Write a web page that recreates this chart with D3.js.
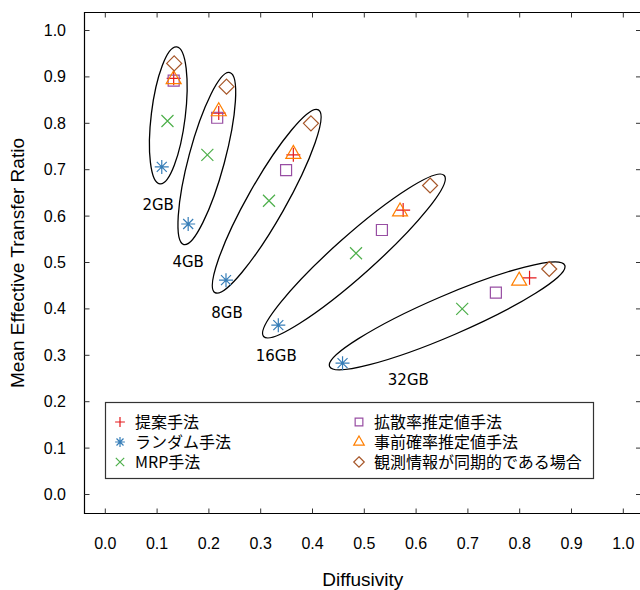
<!DOCTYPE html>
<html>
<head>
<meta charset="utf-8">
<script src="https://cdn.jsdelivr.net/npm/d3@7"></script>
<style>
  body { margin: 0; background: #fff; }
  svg { display: block; }
</style>
</head>
<body>
<div id="chart"></div>
<script>
// values, one [diffusivity, ratio] pair per memory size
const groups = ["2GB", "4GB", "8GB", "16GB", "32GB"];
const proposed  = [[0.132, 0.897], [0.219, 0.822], [0.363, 0.732], [0.575, 0.613], [0.819, 0.467]];
const random    = [[0.109, 0.706], [0.160, 0.583], [0.233, 0.462], [0.334, 0.365], [0.458, 0.283]];
const mrp       = [[0.120, 0.805], [0.197, 0.732], [0.316, 0.633], [0.484, 0.520], [0.689, 0.400]];
const diffEst   = [[0.132, 0.892], [0.216, 0.812], [0.349, 0.699], [0.534, 0.570], [0.754, 0.435]];
const priorEst  = [[0.132, 0.895], [0.219, 0.826], [0.363, 0.734], [0.569, 0.610], [0.799, 0.461]];
const syncObs   = [[0.133, 0.929], [0.234, 0.879], [0.397, 0.800], [0.627, 0.666], [0.857, 0.486]];

// group ellipses: centre (data), half axes (px), rotation (deg)
const ellCenters = [[0.1216, 0.817], [0.196, 0.724], [0.3116, 0.632], [0.480, 0.514], [0.660, 0.385]];
const ellRadii   = [[69, 17], [89, 18], [105, 19], [121, 20], [128, 20]];
const ellAngles  = [-83, -75, -60.5, -41.7, -23.3];
const labelPos   = [[0.102, 0.624], [0.160, 0.501], [0.235, 0.393], [0.330, 0.300], [0.585, 0.247]];

const xTicks = d3.range(0, 1.01, 0.1);
const yTicks = d3.range(0, 1.01, 0.1);

const series = [
  { name: "提案手法", data: proposed, color: "#e41a1c", shape: "plus" },
  { name: "ランダム手法", data: random, color: "#377eb8", shape: "star" },
  { name: "MRP手法", data: mrp, color: "#4daf4a", shape: "cross" },
  { name: "拡散率推定値手法", data: diffEst, color: "#984ea3", shape: "square" },
  { name: "事前確率推定値手法", data: priorEst, color: "#ff7f00", shape: "triangle" },
  { name: "観測情報が同期的である場合", data: syncObs, color: "#a65628", shape: "diamond" }
];

const width = 640, height = 590;
const frame = { left: 84.5, right: 641, top: 12.5, bottom: 513.5 };

const x = d3.scaleLinear().domain([0, 1]).range([105.3, 623.3]);
const y = d3.scaleLinear().domain([0, 1]).range([494.5, 30.5]);

const svg = d3.select("#chart").append("svg")
  .attr("width", width)
  .attr("height", height);

// marker path for a given shape, s = scale factor
function markerPath(shape, s) {
  const p = d3.path();
  if (shape === "plus") {
    p.moveTo(-7 * s, 0); p.lineTo(7 * s, 0);
    p.moveTo(0, -7 * s); p.lineTo(0, 7 * s);
  } else if (shape === "cross") {
    p.moveTo(-6 * s, -6 * s); p.lineTo(6 * s, 6 * s);
    p.moveTo(-6 * s, 6 * s); p.lineTo(6 * s, -6 * s);
  } else if (shape === "star") {
    p.moveTo(-7 * s, 0); p.lineTo(7 * s, 0);
    p.moveTo(0, -7 * s); p.lineTo(0, 7 * s);
    p.moveTo(-5 * s, -5 * s); p.lineTo(5 * s, 5 * s);
    p.moveTo(-5 * s, 5 * s); p.lineTo(5 * s, -5 * s);
  } else if (shape === "square") {
    p.rect(-5.5 * s, -5.5 * s, 11 * s, 11 * s);
  } else if (shape === "triangle") {
    p.moveTo(0, -8.5 * s); p.lineTo(7.5 * s, 4.5 * s); p.lineTo(-7.5 * s, 4.5 * s); p.closePath();
  } else if (shape === "diamond") {
    p.moveTo(0, -7.5 * s); p.lineTo(7.5 * s, 0); p.lineTo(0, 7.5 * s); p.lineTo(-7.5 * s, 0); p.closePath();
  }
  return p.toString();
}

// frame
svg.append("path")
  .attr("d", `M${frame.right},${frame.top}H${frame.left}V${frame.bottom}H${frame.right}`)
  .attr("fill", "none")
  .attr("stroke", "#000")
  .attr("stroke-width", 1.2);

// inward ticks on four sides
const tickG = svg.append("g").attr("stroke", "#333").attr("stroke-width", 1);
xTicks.forEach(t => {
  tickG.append("line").attr("x1", x(t)).attr("x2", x(t)).attr("y1", frame.top).attr("y2", frame.top + 5);
  tickG.append("line").attr("x1", x(t)).attr("x2", x(t)).attr("y1", frame.bottom).attr("y2", frame.bottom - 5);
});
yTicks.forEach(t => {
  tickG.append("line").attr("x1", frame.left).attr("x2", frame.left + 5).attr("y1", y(t)).attr("y2", y(t));
  tickG.append("line").attr("x1", frame.right).attr("x2", frame.right - 5).attr("y1", y(t)).attr("y2", y(t));
});

// tick labels
svg.append("g").selectAll("text")
  .data(xTicks)
  .enter().append("text")
  .attr("x", d => x(d))
  .attr("y", 549)
  .attr("text-anchor", "middle")
  .style("font-family", "'Liberation Sans', Arial, sans-serif")
  .style("font-size", "16px")
  .text(d => d3.format(".1f")(d));

svg.append("g").selectAll("text")
  .data(yTicks)
  .enter().append("text")
  .attr("x", 66)
  .attr("y", d => y(d) + 5.5)
  .attr("text-anchor", "end")
  .style("font-family", "'Liberation Sans', Arial, sans-serif")
  .style("font-size", "16px")
  .text(d => d3.format(".1f")(d));

// axis titles
svg.append("text")
  .attr("x", (frame.left + frame.right) / 2)
  .attr("y", 586)
  .attr("text-anchor", "middle")
  .style("font-family", "'Liberation Sans', Arial, sans-serif")
  .style("font-size", "19px")
  .text("Diffusivity");

svg.append("text")
  .attr("transform", `translate(24,${(frame.top + frame.bottom) / 2}) rotate(-90)`)
  .attr("text-anchor", "middle")
  .style("font-family", "'Liberation Sans', Arial, sans-serif")
  .style("font-size", "19px")
  .text("Mean Effective Transfer Ratio");

// group ellipses
svg.append("g").selectAll("ellipse")
  .data(groups)
  .enter().append("ellipse")
  .attr("transform", (d, i) => `translate(${x(ellCenters[i][0])},${y(ellCenters[i][1])}) rotate(${ellAngles[i]})`)
  .attr("rx", (d, i) => ellRadii[i][0])
  .attr("ry", (d, i) => ellRadii[i][1])
  .attr("fill", "none")
  .attr("stroke", "#000")
  .attr("stroke-width", 1.3);

svg.append("g").selectAll("text")
  .data(groups)
  .enter().append("text")
  .attr("x", (d, i) => x(labelPos[i][0]))
  .attr("y", (d, i) => y(labelPos[i][1]))
  .attr("dy", "0.36em")
  .attr("text-anchor", "middle")
  .style("font-family", "'DejaVu Sans', sans-serif")
  .style("font-size", "15px")
  .text(d => d);

// points
series.forEach(s => {
  svg.append("g").selectAll("path")
    .data(s.data)
    .enter().append("path")
    .attr("transform", d => `translate(${x(d[0])},${y(d[1])})`)
    .attr("d", markerPath(s.shape, 1))
    .attr("fill", "none")
    .attr("stroke", s.color)
    .attr("stroke-width", 1.2);
});

// legend
const legend = svg.append("g");
legend.append("rect")
  .attr("x", 105.5).attr("y", 402.5)
  .attr("width", 488).attr("height", 76)
  .attr("fill", "#fff")
  .attr("stroke", "#333")
  .attr("stroke-width", 1.2);

series.forEach((s, i) => {
  const col = Math.floor(i / 3), row = i % 3;
  const lx = col === 0 ? 120 : 359;
  const ly = 422 + row * 20;
  legend.append("path")
    .attr("transform", `translate(${lx},${ly})`)
    .attr("d", markerPath(s.shape, 0.7))
    .attr("fill", "none")
    .attr("stroke", s.color)
    .attr("stroke-width", 1.2);
  legend.append("text")
    .attr("x", lx + 15)
    .attr("y", ly)
    .attr("dy", "0.36em")
    .style("font-family", "'Noto Sans CJK JP', sans-serif")
    .style("font-size", "16px")
    .text(s.name);
});
</script>
</body>
</html>
